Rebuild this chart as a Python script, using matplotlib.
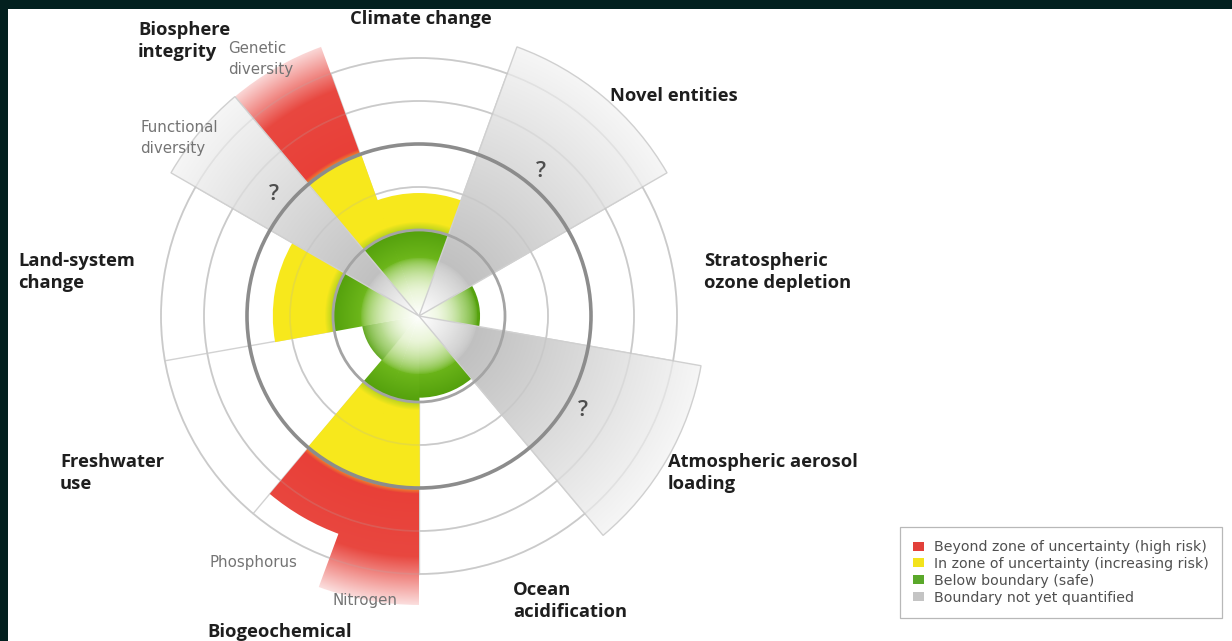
import numpy as np
import matplotlib
matplotlib.use('Agg')
import matplotlib.pyplot as plt
from matplotlib.patches import Wedge, Circle, Patch

W, H = 1232, 641
CX, CY, UNIT = 419, 316, 86.0   # dial centre in px, px per "boundary" unit

# --- data (radius in boundary units, None = not yet quantified) ---
segments = ['Climate change', 'Novel entities', 'Stratospheric ozone depletion',
            'Atmospheric aerosol loading', 'Ocean acidification', 'Nitrogen',
            'Phosphorus', 'Freshwater use', 'Land-system change',
            'Genetic diversity', 'Functional diversity']
seg_start = [70, 30, -10, -50, -90, -110, -130, -170, 150, 110, 130]
seg_width = [40, 40, 40, 40, 40, 20, 20, 40, 40, 20, 20]
seg_value = [1.43, None, 0.71, None, 0.95, 3.36, 2.70, 0.67, 1.70, 3.33, None]
UNKNOWN_EXTENT = 3.33
ring_major = [1.0, 2.0]
ring_minor = [1.5, 2.5, 3.0]
question_marks = ['Novel entities', 'Atmospheric aerosol loading', 'Functional diversity']

legend_labels = ['Beyond zone of uncertainty (high risk)',
                 'In zone of uncertainty (increasing risk)',
                 'Below boundary (safe)',
                 'Boundary not yet quantified']
legend_colors = ['#e2403a', '#f3e31c', '#5aa82a', '#c4c4c4']

fig = plt.figure(figsize=(W / 100, H / 100), dpi=100, facecolor='#03201f')
ax = fig.add_axes([8 / W, 0, 1 - 8 / W, 1 - 9 / H])
x0, x1 = (8 - CX) / UNIT, (W - CX) / UNIT
y0, y1 = -(H - CY) / UNIT, (CY - 9) / UNIT
ax.set_xlim(x0, x1)
ax.set_ylim(y0, y1)
ax.set_facecolor('white')
ax.set_xticks([])
ax.set_yticks([])
for s in ax.spines.values():
    s.set_visible(False)

# radial grid for the gradients
xs = np.linspace(x0, x1, 1224)
ys = np.linspace(y1, y0, 632)
XX, YY = np.meshgrid(xs, ys)
R = np.hypot(XX, YY)
extent = (x0, x1, y0, y1)


def ramp(r, stops, colors):
    colors = np.array(colors)
    return np.stack([np.interp(r, stops, colors[:, i]) for i in range(3)], axis=-1)


def fill(field, r_in, r_out, t1, t2, z=1, pad_lo=0.3, pad_hi=0.3):
    # the pads widen the clip a touch so neighbouring wedges of one colour have no seam
    w = Wedge((0, 0), r_out, t1 - pad_lo, t2 + pad_hi, width=r_out - r_in,
              facecolor='none', edgecolor='none')
    ax.add_patch(w)
    im = ax.imshow(field, extent=extent, origin='upper', zorder=z, interpolation='bilinear')
    im.set_clip_path(w)


def red_edge(angle, skip):
    """True if another red segment shares the edge at this angle."""
    for n, s, dw, v in zip(segments, seg_start, seg_width, seg_value):
        if n == skip or v is None or v <= 2:
            continue
        if (s - angle) % 360 == 0 or (s + dw - angle) % 360 == 0:
            return True
    return False


yellow_field = ramp(R, [1.0, 1.1], [(0.70, 0.82, 0.12), (0.97, 0.91, 0.11)])
red_field = ramp(R, [2.0, 2.07, 2.8, 3.4],
                 [(0.95, 0.60, 0.15), (0.91, 0.25, 0.22), (0.91, 0.28, 0.25), (0.99, 0.91, 0.91)])
gray_field = ramp(R, [0.5, 3.4], [(0.74, 0.74, 0.74), (0.97, 0.97, 0.97)])

# grid under the wedges
for r in ring_minor:
    ax.add_patch(Circle((0, 0), r, fill=False, edgecolor='#d2d2d2', lw=1.3, zorder=0.5))
for t1 in set(seg_start):
    a = np.deg2rad(t1)
    ax.plot([np.cos(a), 3 * np.cos(a)], [np.sin(a), 3 * np.sin(a)],
            color='#d2d2d2', lw=1, zorder=0.5)

for name, t1, dw, v in zip(segments, seg_start, seg_width, seg_value):
    t2 = t1 + dw
    if v is None:
        fill(gray_field, 0, UNKNOWN_EXTENT, t1, t2, pad_lo=0, pad_hi=0)
        ax.add_patch(Wedge((0, 0), UNKNOWN_EXTENT, t1, t2, facecolor='none',
                           edgecolor='#d0d0d0', lw=1, zorder=4))
        continue
    g_end = min(v, 1.0)
    green = ramp(R / g_end, [0.3, 0.7, 1.0],
                 [(0.72, 0.87, 0.48), (0.42, 0.71, 0.10), (0.33, 0.63, 0.05)])
    fill(green, 0, g_end, t1, t2)
    if v > 1:
        fill(yellow_field, 1.0, min(v, 2.0), t1, t2)
    if v > 2:
        lo = 0.3 if red_edge(t1, name) else 0
        hi = 0.3 if red_edge(t2, name) else 0
        fill(red_field, 2.0, v, t1, t2, z=1.5, pad_lo=lo, pad_hi=hi)

# white glow in the middle
glow = np.ones(R.shape + (4,))
glow[..., 3] = np.clip(1 - R / 0.68, 0, 1) ** 0.6
ax.imshow(glow, extent=extent, origin='upper', zorder=3, interpolation='bilinear')

# faint rings showing through the wedges, then the two boundary rings
for r in ring_minor:
    ax.add_patch(Circle((0, 0), r, fill=False, edgecolor='#b0b0b0', lw=1.2, alpha=0.22, zorder=4))
ax.add_patch(Circle((0, 0), ring_major[0], fill=False, edgecolor='#a4a4a4', lw=2.0, zorder=4))
ax.add_patch(Circle((0, 0), ring_major[1], fill=False, edgecolor='#8c8c8c', lw=2.6, zorder=4))

for name, t1, dw in zip(segments, seg_start, seg_width):
    if name in question_marks:
        a = np.deg2rad(t1 + dw / 2)
        ax.text(2.2 * np.cos(a), 2.2 * np.sin(a), '?', ha='center', va='center',
                fontsize=16, color='#4e4e4e', family='Open Sans', weight='semibold', zorder=5)

# labels, placed in pixel space
bold = dict(family='Open Sans', weight='bold', fontsize=13.2, color='#1e1e1e',
            linespacing=1.3)
thin = dict(family='DejaVu Sans', fontsize=10.8, color='#747474', linespacing=1.5)


def label(x, y, s, ha='left', **kw):
    fig.text(x / W, 1 - y / H, s, ha=ha, va='center', **kw)


label(421, 19, 'Climate change', ha='center', **bold)
label(138, 41, 'Biosphere\nintegrity', **bold)
label(228, 59, 'Genetic\ndiversity', **thin)
label(140, 138, 'Functional\ndiversity', **thin)
label(610, 96, 'Novel entities', **bold)
label(704, 272, 'Stratospheric\nozone depletion', **bold)
label(18, 272, 'Land-system\nchange', **bold)
label(668, 473, 'Atmospheric aerosol\nloading', **bold)
label(60, 473, 'Freshwater\nuse', **bold)
label(513, 601, 'Ocean\nacidification', **bold)
label(210, 562, 'Phosphorus', **thin)
label(333, 601, 'Nitrogen', **thin)
label(207, 632, 'Biogeochemical', **bold)

handles = [Patch(facecolor=c, edgecolor='none') for c in legend_colors]
leg = fig.legend(handles, legend_labels, loc='lower right',
                 bbox_to_anchor=(1222 / W, 1 - 618 / H), bbox_transform=fig.transFigure,
                 fancybox=False, edgecolor='#b8b8b8', framealpha=1,
                 prop={'family': 'DejaVu Sans', 'size': 10.2},
                 handlelength=0.75, handleheight=0.6, handletextpad=0.7,
                 labelspacing=0.2, borderpad=0.95, borderaxespad=0)
for t in leg.get_texts():
    t.set_color('#505050')
leg.get_frame().set_linewidth(0.9)

fig.savefig('out.png', dpi=100, facecolor=fig.get_facecolor())
